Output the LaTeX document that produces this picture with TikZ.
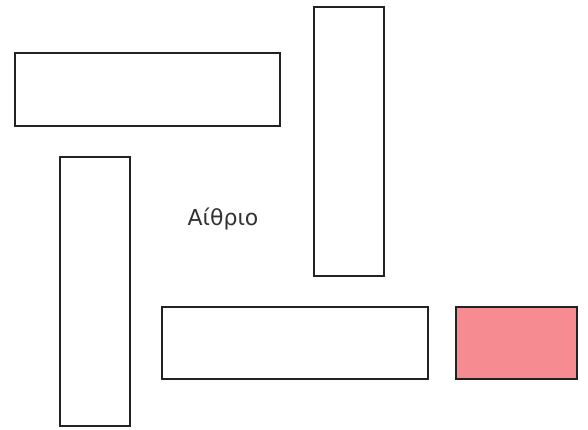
\documentclass[tikz,border=0pt]{standalone}
\usepackage{fontspec}
\setmainfont{DejaVu Sans}
\definecolor{pinkfill}{HTML}{F68C92}
\definecolor{edge}{HTML}{222222}
\definecolor{txt}{HTML}{333333}
\begin{document}
\begin{tikzpicture}[x=1pt,y=-1pt,
  room/.style={draw=edge,line width=2pt,fill=white}]
\useasboundingbox (0,0) rectangle (588,429);
\draw[room] (14.5,53) rectangle (280,125.5);
\draw[room] (313.5,6.5) rectangle (384,275.5);
\draw[room] (60,156.5) rectangle (129.5,426);
\draw[room] (162,306.5) rectangle (427.5,378.5);
\draw[room,fill=pinkfill] (456,306.5) rectangle (576.5,379);
\node[text=txt,font=\fontsize{22}{24}\selectfont,inner sep=0pt] (label) at (223,219) {Αίθριο};
\end{tikzpicture}
\end{document}
